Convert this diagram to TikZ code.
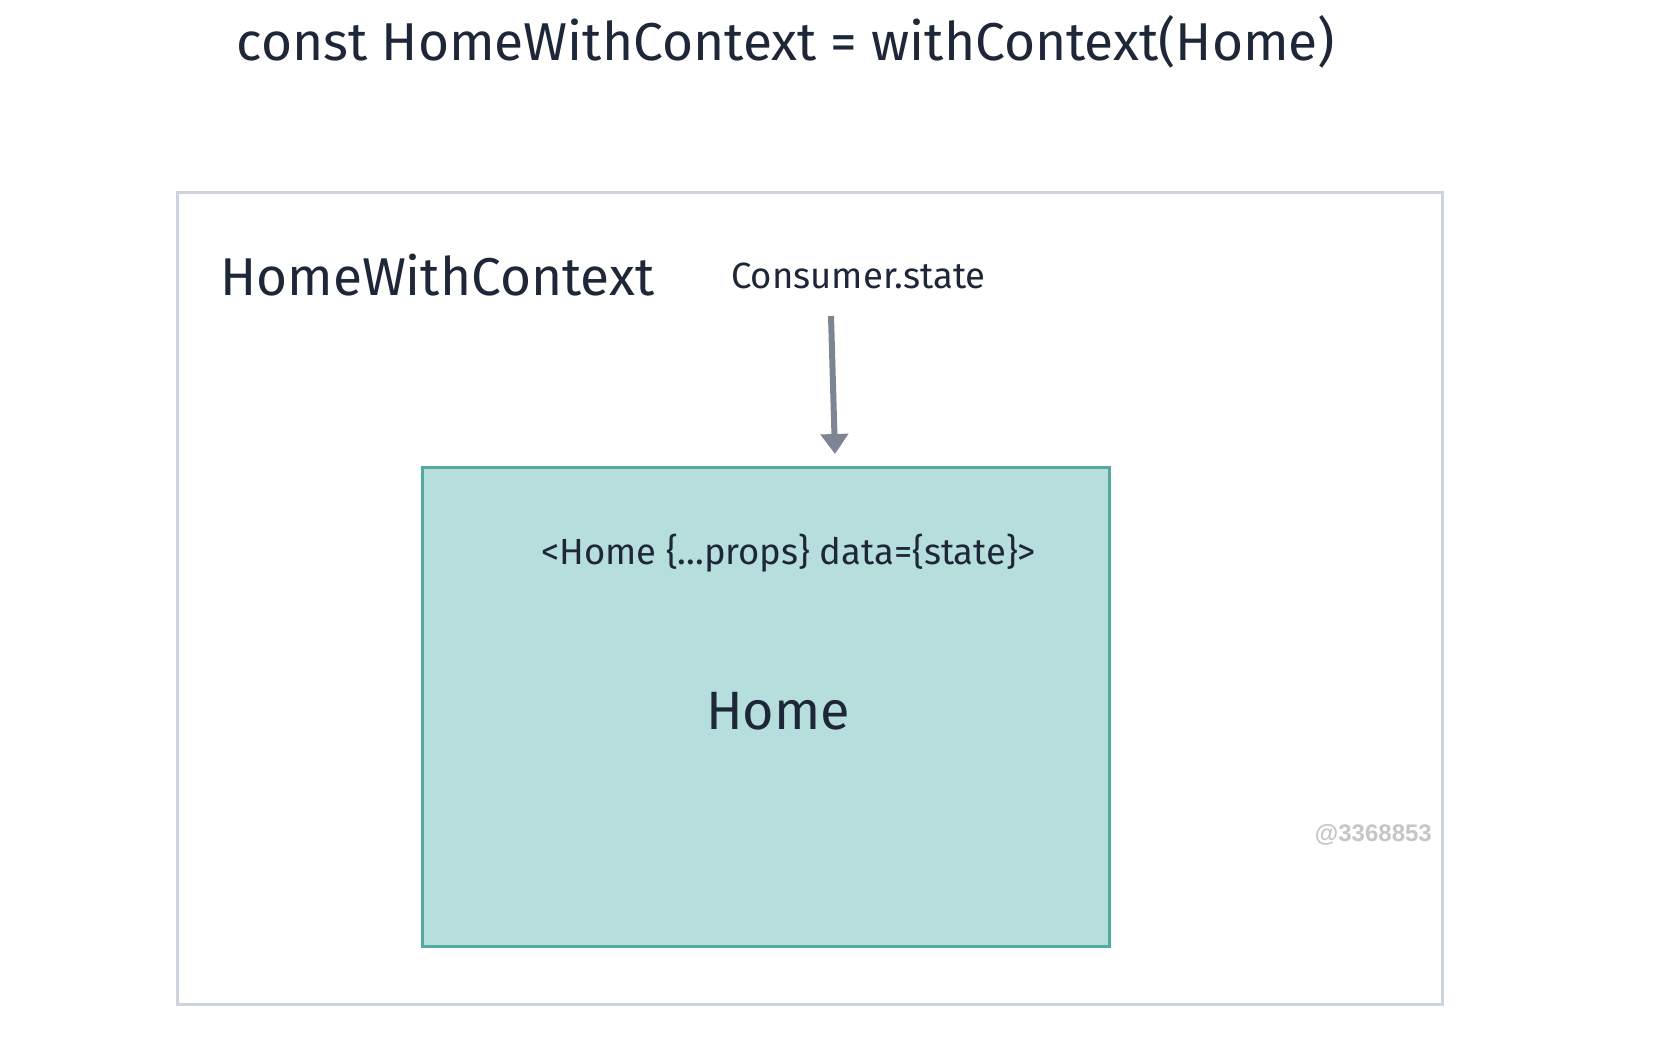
\documentclass[tikz,border=0pt]{standalone}
\usepackage{fontspec}
\setmainfont{Fira Sans}
\newfontfamily\markfont{Liberation Sans}
\usetikzlibrary{positioning,arrows.meta}
\definecolor{inktext}{HTML}{1E2738}
\definecolor{outerline}{HTML}{CED4DE}
\definecolor{homefill}{HTML}{B5DEDC}
\definecolor{homeline}{HTML}{55AA9E}
\definecolor{arrowgray}{HTML}{7D8593}
\definecolor{markgray}{HTML}{C6C6C6}
\tikzset{
  label text/.style={text=inktext, inner sep=0pt},
  box/.style={rectangle, inner sep=0pt, line width=3pt},
  feed/.style={draw=arrowgray, line width=6pt, -{Triangle[width=27pt,length=20pt]}}
}
\begin{document}
\begin{tikzpicture}[x=1pt,y=-1pt]
\useasboundingbox[fill=white] (0,0) rectangle (1662,1042);
% frames
\node[box, draw=outerline, minimum width=1265pt, minimum height=812pt] (outer) at (809.5,598) {};
\node[box, draw=homeline, fill=homefill, minimum width=687pt, minimum height=479pt] (inner) at (765.5,706.5) {};
% texts
\node[label text, anchor=base, font=\fontsize{53.3}{60}\selectfont] (title) at (786,60) {const HomeWithContext = withContext(Home)};
\node[label text, anchor=base west, font=\fontsize{53.2}{60}\selectfont] (hoc) at (220,295) {HomeWithContext};
\node[label text, anchor=base west, font=\fontsize{36.5}{44}\selectfont] (state) at (731,288) {Consumer.state};
\node[label text, anchor=base west, font=\fontsize{36.4}{42}\selectfont] (props) at (541,564) {<Home \{...props\} data=\{state\}>};
\node[label text, anchor=base, font=\fontsize{54}{60}\selectfont] (home) at (778,729) {Home};
\node[anchor=base east, inner sep=0pt, text=markgray, font=\markfont\bfseries\fontsize{24}{30}\selectfont] (mark) at (1432,841) {@3368853};
% arrow
\coordinate (feedtop) at (831,316);
\coordinate (feedtip) at (835,454);
\draw[feed] (feedtop) -- (feedtip);
\end{tikzpicture}
\end{document}
